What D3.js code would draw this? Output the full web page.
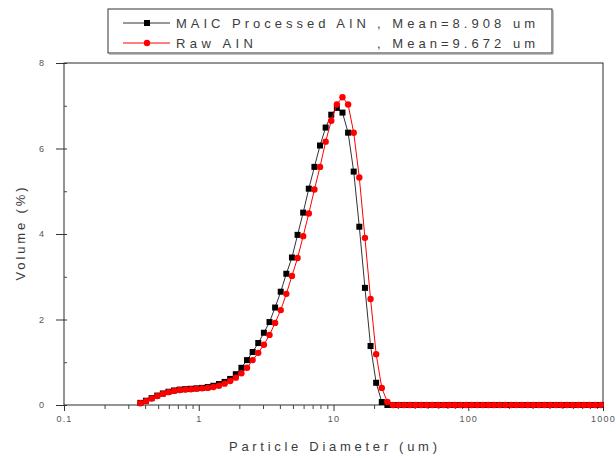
<!DOCTYPE html>
<html><head><meta charset="utf-8">
<script src="https://cdn.jsdelivr.net/npm/d3@7"></script>
<style>body{margin:0;background:#fff}svg{display:block}text{font-family:"Liberation Sans",Arial,sans-serif}</style>
</head><body><svg id="c" width="616" height="458"></svg>
<script>
// Particle diameters (um), bin centres
const diameters = [
 0.3687,0.4058,0.4467,0.4917,0.5412,0.5957,0.6557,0.7217,0.7943,0.8744,0.9624,
 1.0593,1.1659,1.2833,1.4125,1.5548,1.7113,1.8836,2.0733,2.2821,2.5119,2.7649,3.0433,3.3497,3.6869,4.0583,4.4668,4.9169,5.4117,5.9566,6.5566,7.2170,7.9433,8.7437,9.6240,
 10.593,11.659,12.833,14.125,15.548,17.113,18.836,20.733,22.821,25.119,27.649,30.433,33.497,36.869,40.583,44.668,49.169,54.117,59.566,65.566,72.170,79.433,87.437,96.240,
 105.93,116.59,128.33,141.25,155.48,171.13,188.36,207.33,228.21,251.19,276.49,304.33,334.97,368.69,405.83,446.68,491.69,541.17,595.66,655.66,721.70,794.33,874.37,962.40
];
// Volume (%) – MAIC processed AlN
const maicVolume = [
 0.05,0.10,0.16,0.22,0.27,0.31,0.34,0.36,0.37,0.38,0.39,
 0.40,0.42,0.45,0.49,0.54,0.61,0.72,0.87,1.05,1.24,1.45,1.69,1.94,2.28,2.65,3.07,3.45,3.98,4.50,5.06,5.57,6.07,6.49,6.79,
 6.95,6.84,6.37,5.46,4.17,2.74,1.38,0.52,0.07,0,0,0,0,0,0,0,0,0,0,0,0,0,0,0,
 0,0,0,0,0,0,0,0,0,0,0,0,0,0,0,0,0,0,0,0,0,0,0,0
];
// Volume (%) – Raw AlN
const rawVolume = [
 0.04,0.09,0.15,0.21,0.26,0.30,0.33,0.35,0.36,0.37,0.38,
 0.39,0.40,0.42,0.45,0.50,0.56,0.64,0.74,0.87,1.05,1.22,1.41,1.64,1.92,2.22,2.60,3.02,3.44,3.95,4.48,5.04,5.57,6.16,6.65,
 7.03,7.20,7.03,6.37,5.32,3.91,2.48,1.19,0.40,0.07,0,0,0,0,0,0,0,0,0,0,0,0,0,0,
 0,0,0,0,0,0,0,0,0,0,0,0,0,0,0,0,0,0,0,0,0,0,0,0
];
const xTickValues = [0.1, 1, 10, 100, 1000];
const xTickLabels = ["0.1", "1", "10", "100", "1000"];
const yTickValues = [0, 2, 4, 6, 8];
const seriesNames = ["MAIC Processed AIN", "Raw AIN"];
const seriesMeans = [", Mean=8.908 um", ", Mean=9.672 um"];

const svg = d3.select("#c");
const L = 64, R = 603, T = 63, B = 405;
const x = d3.scaleLog().domain([0.1, 1000]).range([L, R]);
const y = d3.scaleLinear().domain([0, 8]).range([B, T]);
const txt = "#3c3c3c";

// frame
svg.append("rect").attr("x", L).attr("y", T).attr("width", R - L).attr("height", B - T)
  .attr("fill", "none").attr("stroke", "#2a2a2a").attr("stroke-width", 1);

// x axis
const minorX = [];
for (let d = 0.1; d < 1000; d *= 10) for (let m = 2; m <= 9; m++) minorX.push(d * m);
const xAxis = svg.append("g").attr("transform", `translate(0,${B})`)
  .call(d3.axisBottom(x).tickValues(xTickValues).tickSize(6).tickFormat((d, i) => xTickLabels[i]));
xAxis.select(".domain").remove();
xAxis.selectAll("text").attr("font-size", 9).attr("fill", "#555").attr("letter-spacing", 1.2).attr("dy", "0.9em");
xAxis.selectAll("line").attr("stroke", "#333");
const xMinor = svg.append("g").attr("transform", `translate(0,${B})`)
  .call(d3.axisBottom(x).tickValues(minorX).tickSize(4).tickFormat(""));
xMinor.select(".domain").remove();
xMinor.selectAll("line").attr("stroke", "#444");

// y axis
const yAxis = svg.append("g").attr("transform", `translate(${L},0)`)
  .call(d3.axisLeft(y).tickValues(yTickValues).tickSizeInner(8).tickSizeOuter(0).tickPadding(12));
yAxis.select(".domain").remove();
yAxis.selectAll("line").attr("stroke", "#333").attr("x2", 3).attr("x1", -8);
yAxis.selectAll("text").attr("font-size", 9).attr("fill", "#555");
const yMinor = svg.append("g").attr("transform", `translate(${L},0)`)
  .call(d3.axisRight(y).tickValues([1, 3, 5, 7]).tickSize(3).tickFormat(""));
yMinor.select(".domain").remove();
yMinor.selectAll("line").attr("stroke", "#444");

// axis titles
svg.append("text").attr("x", 333).attr("y", 451).attr("text-anchor", "middle")
  .attr("font-size", 13).attr("fill", txt).attr("textLength", 208).attr("lengthAdjust", "spacing")
  .text("Particle Diameter (um)");
svg.append("text").attr("transform", "translate(25,234) rotate(-90)").attr("text-anchor", "middle")
  .attr("font-size", 13).attr("fill", txt).attr("textLength", 93).attr("lengthAdjust", "spacing")
  .text("Volume (%)");

// series
const line = d3.line().x((d, i) => x(diameters[i])).y(d => y(d));
svg.append("path").datum(maicVolume).attr("d", line).attr("fill", "none").attr("stroke", "#333").attr("stroke-width", 1);
svg.append("g").selectAll("rect").data(maicVolume).join("rect")
  .attr("x", (d, i) => x(diameters[i]) - 3).attr("y", d => y(d) - 3)
  .attr("width", 6).attr("height", 6).attr("fill", "#000");
svg.append("path").datum(rawVolume).attr("d", line).attr("fill", "none").attr("stroke", "#ff0000").attr("stroke-width", 1);
svg.append("g").selectAll("circle").data(rawVolume).join("circle")
  .attr("cx", (d, i) => x(diameters[i])).attr("cy", d => y(d)).attr("r", 3.2).attr("fill", "#ff0000");

// legend
const lg = svg.append("g");
lg.append("rect").attr("x", 108).attr("y", 9).attr("width", 444).attr("height", 44)
  .attr("fill", "#fff").attr("stroke", "#333").attr("stroke-width", 1);
lg.append("line").attr("x1", 109).attr("x2", 553).attr("y1", 54).attr("y2", 54).attr("stroke", "#888");
lg.append("line").attr("x1", 553).attr("x2", 553).attr("y1", 10).attr("y2", 54).attr("stroke", "#888");
const rows = [23, 43];
const colors = ["#000", "#ff0000"];
rows.forEach((ry, i) => {
  lg.append("line").attr("x1", 123).attr("x2", 170).attr("y1", ry).attr("y2", ry)
    .attr("stroke", i === 0 ? "#333" : "#ff0000").attr("stroke-width", 1);
  if (i === 0) lg.append("rect").attr("x", 144).attr("y", ry - 3).attr("width", 6).attr("height", 6).attr("fill", "#000");
  else lg.append("circle").attr("cx", 147).attr("cy", ry).attr("r", 3.2).attr("fill", "#ff0000");
  lg.append("text").attr("x", 176).attr("y", ry + 5).attr("font-size", 13).attr("fill", txt)
    .attr("textLength", i === 0 ? 190 : 77).attr("lengthAdjust", "spacing").text(seriesNames[i]);
  lg.append("text").attr("x", 377).attr("y", ry + 5).attr("font-size", 13).attr("fill", txt)
    .attr("textLength", 158).attr("lengthAdjust", "spacing").text(seriesMeans[i]);
});
</script></body></html>
